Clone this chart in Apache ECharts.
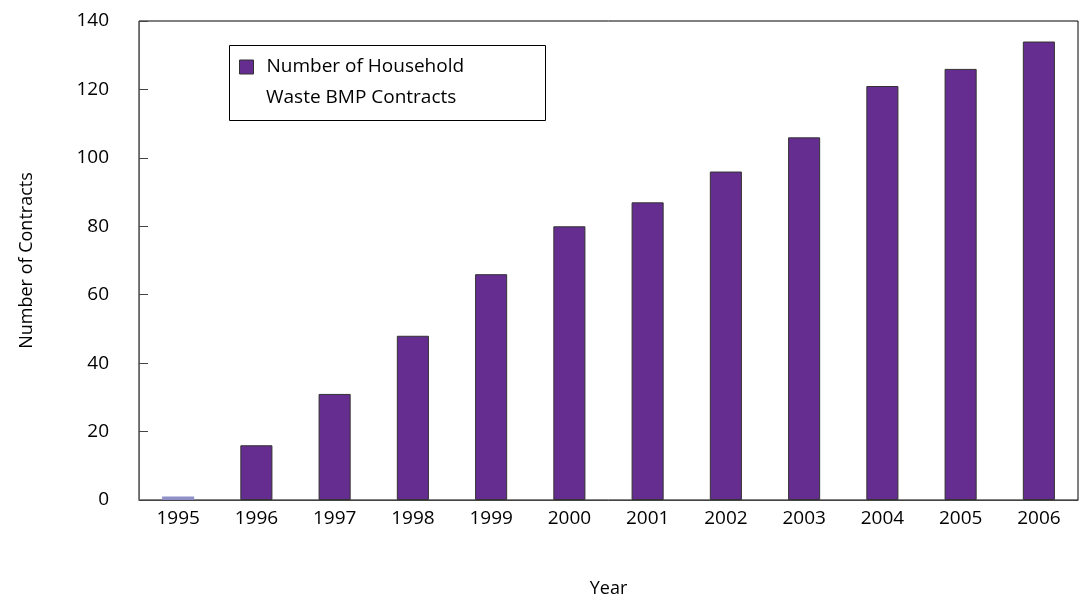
<!DOCTYPE html>
<html>
<head>
<meta charset="utf-8">
<script src="https://cdn.jsdelivr.net/npm/echarts@6/dist/echarts.min.js"></script>
<style>html,body{margin:0;padding:0;background:#fff;}#c{width:1083px;height:597px;}</style>
</head>
<body>
<div id="c"></div>
<script>
var years = ['1995','1996','1997','1998','1999','2000','2001','2002','2003','2004','2005','2006'];
var contracts = [1, 16, 31, 48, 66, 80, 87, 96, 106, 121, 126, 134];
var yTicks = [0, 20, 40, 60, 80, 100, 120, 140];
var seriesName = 'Number of Household Waste BMP Contracts';
var legendLine1 = 'Number of Household';
var legendLine2 = 'Waste BMP Contracts';

var chart = echarts.init(document.getElementById('c'), null, {renderer: 'canvas'});
var font = 'Open Sans';
chart.setOption({
  animation: false,
  backgroundColor: '#fff',
  grid: {left: 139, right: 5, top: 21, bottom: 97, show: true, borderColor: '#000', borderWidth: 1,
    backgroundColor: 'transparent', containLabel: false, outerBoundsMode: 'none'},
  legend: {
    left: 239, top: 53,
    orient: 'vertical',
    padding: 0,
    itemWidth: 14, itemHeight: 14,
    icon: 'rect',
    data: [{name: seriesName, itemStyle: {color: '#652D90', borderColor: '#333', borderWidth: 1}}],
    formatter: function () { return legendLine1; },
    textStyle: {fontFamily: font, fontSize: 19, color: '#000', lineHeight: 22, padding: [6, 0, 0, 8]}
  },
  graphic: [
    {type: 'rect', z: 10, shape: {x: 229.5, y: 45.5, width: 316, height: 75}, style: {fill: 'none', stroke: '#000', lineWidth: 1}},
    {type: 'text', z: 10, style: {text: legendLine2, x: 266, y: 98, verticalAlign: 'middle', font: '19px "Open Sans"', fill: '#000'}}
  ],
  xAxis: {
    type: 'category',
    data: years,
    name: 'Year', nameLocation: 'middle', nameGap: 80,
    nameTextStyle: {fontFamily: font, fontSize: 18, color: '#000'},
    axisLine: {lineStyle: {color: '#444', width: 1}},
    axisTick: {inside: true, length: 7, lineStyle: {color: '#000'}},
    axisLabel: {fontFamily: font, fontSize: 19, color: '#000', margin: 9}
  },
  yAxis: {
    type: 'value', min: 0, max: 140, interval: 20,
    name: 'Number of Contracts', nameLocation: 'middle', nameGap: 103,
    nameTextStyle: {fontFamily: font, fontSize: 18, color: '#000'},
    axisLine: {show: true, lineStyle: {color: '#666', width: 1}},
    axisTick: {show: true, inside: true, length: 9, lineStyle: {color: '#444'}},
    splitLine: {show: false},
    axisLabel: {fontFamily: font, fontSize: 19, color: '#000', margin: 30,
      formatter: function (v) { return yTicks.indexOf(v) >= 0 ? String(v) : ''; }}
  },
  series: [{
    name: seriesName,
    type: 'bar',
    barCategoryGap: '59%',
    data: contracts.map(function (v, i) {
      return i === 0 ? {value: v, itemStyle: {color: '#9090C8', borderColor: '#9090C8', borderWidth: 0}} : v;
    }),
    itemStyle: {color: '#652D90', borderColor: '#333', borderWidth: 1}
  }]
});
</script>
</body>
</html>
